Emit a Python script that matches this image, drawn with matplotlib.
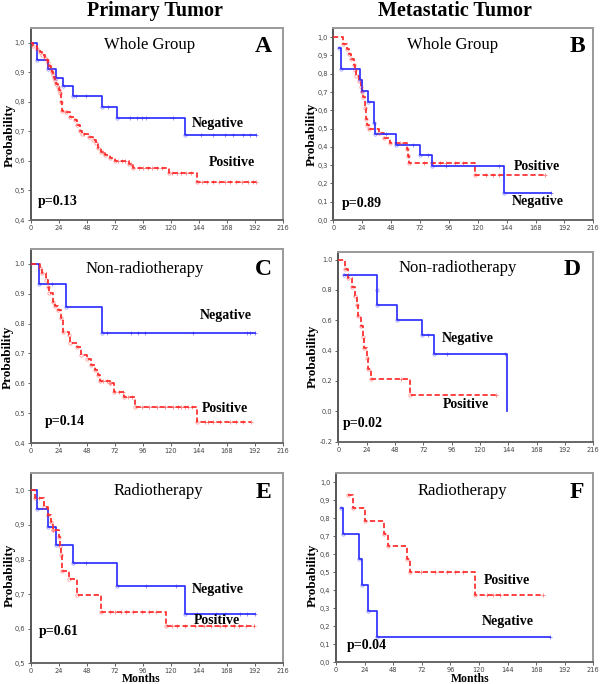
import numpy as np
import matplotlib.pyplot as plt

# Kaplan-Meier curves: step times (months), survival after step, censor times
a_neg_t = [0, 5, 15, 22, 28, 36, 61, 74, 132, 193]
a_neg_s = [1.0, 0.94, 0.912, 0.882, 0.852, 0.82, 0.784, 0.745, 0.687, 0.687]
a_neg_c = [39, 47, 66, 85, 91, 95, 99, 122, 146, 156, 166, 173, 182, 188, 193]
a_pos_t = [0, 2, 5, 8, 10, 12, 14, 15, 16, 17, 18, 19, 20, 21, 22, 23, 24, 25, 26, 27,
           30, 34, 38, 40, 42, 44, 50, 53, 56, 58, 60, 64, 68, 72, 84, 88, 118, 142, 193]
a_pos_s = [1.0, 0.99, 0.98, 0.97, 0.96, 0.95, 0.94, 0.93, 0.92, 0.91, 0.90, 0.89, 0.88, 0.87,
           0.86, 0.85, 0.84, 0.83, 0.80, 0.77, 0.765, 0.75, 0.74, 0.72, 0.70, 0.69, 0.68, 0.67,
           0.66, 0.645, 0.63, 0.62, 0.61, 0.60, 0.59, 0.575, 0.56, 0.53, 0.53]
a_pos_c = [46, 62, 75, 78, 81, 86, 93, 96, 100, 104, 108, 112, 121, 125, 129, 133, 137,
           147, 151, 156, 161, 166, 171, 176, 181, 186, 190, 193]

b_neg_t = [5, 6, 22, 24, 29, 34, 35, 52, 72, 82, 142, 181]
b_neg_s = [0.94, 0.824, 0.765, 0.706, 0.647, 0.53, 0.471, 0.412, 0.353, 0.294, 0.147, 0.147]
b_neg_c = [44, 66, 79, 94, 138, 181]
b_pos_t = [0, 8, 11, 13, 15, 17, 18, 19, 21, 23, 24, 25, 26, 27, 28, 30, 38, 42, 47, 61,
           62, 63, 118, 176]
b_pos_s = [1.0, 0.96, 0.934, 0.907, 0.88, 0.85, 0.82, 0.79, 0.76, 0.73, 0.70, 0.67, 0.61,
           0.55, 0.522, 0.498, 0.476, 0.449, 0.421, 0.39, 0.35, 0.311, 0.247, 0.247]
b_pos_c = [55, 75, 83, 89, 94, 101, 108, 127, 133, 138, 176]

c_neg_t = [0, 7, 30, 61, 192]
c_neg_s = [1.0, 0.933, 0.855, 0.77, 0.77]
c_neg_c = [18, 65, 86, 92, 98, 139, 185, 188, 192]
c_pos_t = [0, 8, 10, 13, 15, 16, 19, 21, 23, 26, 28, 33, 34, 40, 43, 48, 52, 55, 58, 59,
           68, 71, 80, 89, 142, 189]
c_pos_s = [1.0, 0.985, 0.969, 0.946, 0.924, 0.902, 0.874, 0.86, 0.846, 0.818, 0.773, 0.762,
           0.734, 0.723, 0.695, 0.682, 0.661, 0.645, 0.628, 0.608, 0.6, 0.572, 0.555, 0.522,
           0.472, 0.472]
c_pos_c = [62, 65, 68, 76, 79, 83, 87, 95, 101, 108, 115, 122, 126, 129, 132, 135, 138,
           149, 152, 156, 162, 171, 176, 182, 189]

d_neg_t = [5, 33, 33, 50, 71, 81, 143]
d_neg_s = [0.9, 0.8, 0.7, 0.6, 0.5, 0.375, 0.0]
d_neg_c = [8, 76, 92, 141]
d_pos_t = [0, 6, 8, 12, 14, 16, 17, 19, 21, 22, 24, 25, 28, 61, 134]
d_pos_s = [1.0, 0.94, 0.88, 0.82, 0.76, 0.70, 0.63, 0.56, 0.49, 0.42, 0.35, 0.28, 0.21,
           0.105, 0.105]
d_pos_c = [53, 134]

e_neg_t = [0, 5, 15, 22, 36, 74, 132, 192]
e_neg_s = [1.0, 0.947, 0.895, 0.842, 0.79, 0.723, 0.642, 0.642]
e_neg_c = [47, 99, 124, 142, 159, 166, 179, 185, 192]
e_pos_t = [0, 4, 11, 15, 17, 19, 24, 25, 26, 27, 33, 40, 60, 116, 192]
e_pos_s = [1.0, 0.977, 0.953, 0.93, 0.909, 0.886, 0.864, 0.84, 0.814, 0.767, 0.744, 0.697,
           0.647, 0.607, 0.607]
e_pos_c = [7, 19, 68, 72, 77, 82, 88, 95, 101, 107, 121, 125, 132, 141, 148, 154, 162,
           166, 174, 178, 184, 191]

f_neg_t = [4, 6, 19, 22, 27, 34, 180]
f_neg_s = [0.857, 0.714, 0.571, 0.429, 0.286, 0.143, 0.143]
f_neg_c = [180]
f_pos_t = [10, 14, 24, 40, 44, 60, 62, 117, 174]
f_pos_s = [0.929, 0.857, 0.786, 0.714, 0.643, 0.571, 0.5, 0.375, 0.375]
f_pos_c = [71, 83, 93, 100, 107, 127, 132, 138, 174]

x_ticks = [0, 24, 48, 72, 96, 120, 144, 168, 192, 216]

W, H = 600, 684
fig = plt.figure(figsize=(6, 6.84), dpi=100)
serif = 'Liberation Serif'
blue = '#2f2fff'
red = '#ff2a2a'


def px(x, y):
    return x / W, 1 - y / H


def ftext(x, y, s, **kw):
    kw.setdefault('family', serif)
    fig.text(*px(x, y), s, ha='center', va='center', **kw)


def km(ax, t, s, c, color, ls):
    t = np.array(t, float)
    s = np.array(s, float)
    ax.step(t, s, where='post', color=color, ls=ls, lw=1.25,
            dashes=(3, 1.6) if ls == '--' else (None, None), zorder=3)
    keep = np.ones(len(t), bool)
    keep[-1] = False
    keep[t == 0] = False
    ax.plot(t[keep], s[keep], 'o', ms=2.4, mfc='none', mec=color, mew=0.5,
            alpha=0.55, zorder=4)
    idx = np.searchsorted(t, c, side='right') - 1
    ax.plot(c, s[idx], '+', ms=3.5, color=color, mew=0.6, alpha=0.6, zorder=4)


def panel(left, top, right, bottom, ylo, yticks, comma):
    ax = fig.add_axes([left / W, 1 - bottom / H, (right - left) / W, (bottom - top) / H])
    ax.set_xlim(0, 216)
    ax.set_ylim(ylo, 1.05)
    ax.set_xticks(x_ticks)
    ax.set_xticklabels([str(v) for v in x_ticks])
    ax.set_yticks(yticks)
    labs = ['%.1f' % v for v in yticks]
    if comma:
        labs = [l.replace('.', ',') for l in labs]
    ax.set_yticklabels(labs)
    ax.tick_params(labelsize=4.8, length=2.5, width=0.6, pad=1.5, colors='#444')
    ax.tick_params(axis='x', pad=1.0)
    for sp in ax.spines.values():
        sp.set_color('#9a9a9a')
        sp.set_linewidth(1.4)
    ax.spines['left'].set_color('#555')
    ax.spines['bottom'].set_color('#666')
    return ax


axA = panel(30.7, 28, 283, 220, 0.4, np.arange(0.4, 1.01, 0.1), True)
km(axA, a_neg_t, a_neg_s, a_neg_c, blue, '-')
km(axA, a_pos_t, a_pos_s, a_pos_c, red, '--')

axB = panel(333.3, 28, 593.3, 220, 0.0, np.arange(0.0, 1.01, 0.1), True)
km(axB, b_pos_t, b_pos_s, b_pos_c, red, '--')
km(axB, b_neg_t, b_neg_s, b_neg_c, blue, '-')

axC = panel(30.7, 249, 283, 443, 0.4, np.arange(0.4, 1.01, 0.1), False)
km(axC, c_neg_t, c_neg_s, c_neg_c, blue, '-')
km(axC, c_pos_t, c_pos_s, c_pos_c, red, '--')

axD = panel(338.3, 252, 593.3, 441.7, -0.2, np.arange(-0.2, 1.01, 0.2), False)
km(axD, d_neg_t, d_neg_s, d_neg_c, blue, '-')
km(axD, d_pos_t, d_pos_s, d_pos_c, red, '--')

axE = panel(30.7, 473, 283, 663.3, 0.5, np.arange(0.5, 1.01, 0.1), True)
km(axE, e_neg_t, e_neg_s, e_neg_c, blue, '-')
km(axE, e_pos_t, e_pos_s, e_pos_c, red, '--')

axF = panel(336, 473, 593.3, 662.3, 0.0, np.arange(0.0, 1.01, 0.1), True)
km(axF, f_neg_t, f_neg_s, f_neg_c, blue, '-')
km(axF, f_pos_t, f_pos_s, f_pos_c, red, '--')

# column titles
ftext(155, 11, 'Primary Tumor', size=14.5, weight='bold')
ftext(455, 11, 'Metastatic Tumor', size=14.5, weight='bold')

# y labels
for x, y in [(10, 135), (312, 134), (8, 357), (313, 356), (10, 575), (313, 575)]:
    ftext(x, y, 'Probability', size=9.5, weight='bold', rotation=90)

# panel titles and letters
for x, y, s in [(150, 45, 'Whole Group'), (453, 45, 'Whole Group'),
                (145, 269, 'Non-radiotherapy'), (458, 268, 'Non-radiotherapy'),
                (158, 491, 'Radiotherapy'), (462, 491, 'Radiotherapy')]:
    ftext(x, y, s, size=12)
for x, y, s in [(263, 46, 'A'), (577, 46, 'B'), (263, 269, 'C'), (572, 269, 'D'),
                (263, 492, 'E'), (577, 492, 'F')]:
    ftext(x, y, s, size=17, weight='bold')

# group labels and p values
for x, y, s in [(218, 123, 'Negative'), (232, 163, 'Positive'), (58, 202, 'p=0.13'),
                (537, 166, 'Positive'), (538, 202, 'Negative'), (362, 203, 'p=0.89'),
                (226, 316, 'Negative'), (225, 409, 'Positive'), (65, 422, 'p=0.14'),
                (468, 338, 'Negative'), (466, 404, 'Positive'), (363, 424, 'p=0.02'),
                (218, 590, 'Negative'), (217, 621, 'Positive'), (59, 632, 'p=0.61'),
                (507, 580, 'Positive'), (508, 622, 'Negative'), (367, 646, 'p=0.04')]:
    ftext(x, y, s, size=10, weight='bold')

ftext(141, 679.5, 'Months', size=8.5, weight='bold')
ftext(470, 679.5, 'Months', size=8.5, weight='bold')

fig.savefig('out.png', dpi=100)
